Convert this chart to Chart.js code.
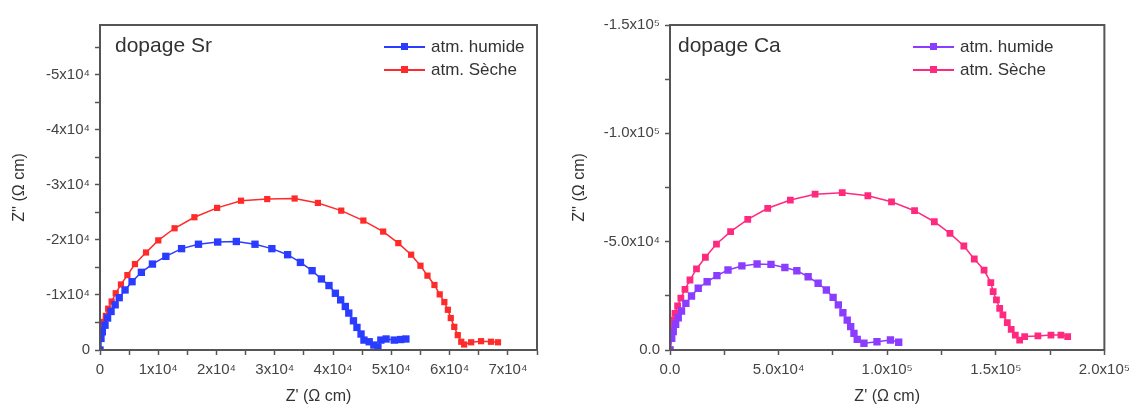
<!DOCTYPE html>
<html>
<head>
<meta charset="utf-8">
<script src="https://cdn.jsdelivr.net/npm/chart.js@4/dist/chart.umd.min.js"></script>
<style>
body{margin:0;background:#fff;font-family:"Liberation Sans",Arial,sans-serif;}
.wrap{position:absolute;top:0;height:410px}
.ttl{position:absolute;font-size:21px;color:#333;line-height:1}
.leg{position:absolute;font-size:17px;color:#333;line-height:23px}
.leg div{display:flex;align-items:center}
.ln{position:relative;width:41px;height:2px;margin-right:6px}
.ln i{position:absolute;left:17px;top:-3px;width:7px;height:7px}
</style>
</head>
<body>
<div class="wrap" style="left:0;width:560px"><canvas id="c1"></canvas></div>
<div class="wrap" style="left:560px;width:576px"><canvas id="c2"></canvas></div>
<div class="ttl" style="left:115px;top:34px">dopage Sr</div>
<div class="ttl" style="left:678px;top:34px">dopage Ca</div>
<div class="leg" style="left:384px;top:35px">
  <div><span class="ln" style="background:#2a3cff"><i style="background:#2a3cff"></i></span>atm. humide</div>
  <div><span class="ln" style="background:#ff2a2a"><i style="background:#ff2a2a"></i></span>atm. Sèche</div>
</div>
<div class="leg" style="left:913px;top:35px">
  <div><span class="ln" style="background:#8a3cff"><i style="background:#8a3cff"></i></span>atm. humide</div>
  <div><span class="ln" style="background:#ff2a80"><i style="background:#ff2a80"></i></span>atm. Sèche</div>
</div>
<script>
// dopage Sr
const srHumX=[0,170,400,860,1300,1900,2600,3300,4300,5500,7100,9000,11300,14000,16900,20200,23400,26600,29500,32200,34400,36400,38000,39300,40400,41300,42100,42700,43500,44100,44800,45300,46200,47000,47700,48200,49100,50500,51600,52500];
const srHumY=[0,-2100,-3300,-4500,-5800,-7000,-8200,-9500,-10900,-12400,-14100,-15600,-17000,-18400,-19200,-19600,-19700,-19200,-18400,-17300,-15900,-14400,-12900,-11700,-10300,-9100,-7900,-6700,-5300,-4100,-2900,-1800,-1500,-900,-500,-1800,-2000,-1800,-1900,-2000];
const srSecX=[0,0,300,570,1000,1400,2000,2700,3600,4700,6000,7900,10000,12800,16200,20100,24200,28700,33400,37400,41400,45200,48600,51200,53400,55000,56200,57400,58300,59100,59700,60200,60800,61400,62000,62500,63700,65400,67100,68300];
const srSecY=[0,-2200,-3900,-5100,-6200,-7500,-8800,-10300,-11900,-13600,-15600,-17700,-19900,-22100,-24100,-25800,-27100,-27400,-27500,-26700,-25300,-23500,-21500,-19400,-17300,-15300,-13500,-11800,-10100,-8700,-7300,-5800,-4200,-2700,-1500,-1000,-1400,-1600,-1500,-1400];
const srXTicks=[0,5000,10000,15000,20000,25000,30000,35000,40000,45000,50000,55000,60000,65000,70000,75000];
const srYTicks=[0,-5000,-10000,-15000,-20000,-25000,-30000,-35000,-40000,-45000,-50000,-55000];
// dopage Ca
const caHumX=[0,800,1500,2600,3800,5300,7300,9900,13000,17100,21600,26700,33100,40100,46500,52900,58400,63600,68200,72000,75100,77500,79600,81600,83200,84700,86200,89300,95300,101500,105300];
const caHumY=[0,-5400,-8500,-11900,-14900,-18000,-21500,-24900,-28500,-31500,-34300,-36900,-38800,-39700,-39500,-38100,-36600,-33800,-30800,-27700,-24300,-20800,-17200,-13800,-10800,-7700,-4900,-3100,-3800,-4600,-3600];
const caSecX=[0,300,800,1400,2300,3500,5000,6900,9200,12200,16300,21400,27900,35800,45000,55400,66800,79300,91100,102000,112600,121700,128900,135300,140100,144600,147700,148800,150300,151800,153300,155300,157100,159000,161000,163300,169400,175400,180000,183100];
const caSecY=[0,-6900,-10800,-13800,-16900,-20300,-23900,-28000,-32300,-37400,-42800,-48900,-54600,-60300,-65400,-69200,-71900,-72600,-71200,-68400,-64300,-59200,-53800,-48000,-42000,-36900,-31100,-26900,-23100,-19200,-16200,-12600,-9500,-6900,-4600,-6200,-6500,-6900,-6900,-6200];
const caXTicks=[0,25000,50000,75000,100000,125000,150000,175000,200000];
const caYTicks=[0,-25000,-50000,-75000,-100000,-125000,-150000];

const pts=(xs,ys)=>xs.map((x,i)=>({x:x,y:ys[i]}));
const sup={4:'⁴',5:'⁵'};
function fmtSr(v){
  const a=Math.round(Math.abs(v)/1000)*1000;
  if(a===0)return '0';
  if(a%10000)return '';
  return (v<0?'-':'')+a/10000+'x10'+sup[4];
}
function fmtCa(v){
  const a=Math.round(Math.abs(v)/1000)*1000;
  if(a===0)return '0.0';
  if(a%50000)return '';
  const e=a>=100000?5:4;
  return (v<0?'-':'')+(a/Math.pow(10,e)).toFixed(1)+'x10'+sup[e];
}
const boxPlugin={id:'box',afterDatasetsDraw(ch){
  const a=ch.chartArea,c=ch.ctx;
  c.save();c.strokeStyle='#555';c.lineWidth=2;
  c.strokeRect(a.left,a.top,a.right-a.left,a.bottom-a.top);
  c.restore();
}};
function ds(data,color,r){
  return {data:data,showLine:true,borderColor:color,backgroundColor:color,borderWidth:1.5,
    pointStyle:'rect',pointRadius:r,pointBorderWidth:0,tension:0};
}
function make(id,sets,xMax,yMin,xTicks,yTicks,fmt,padRight,yW){
  const tickFont={family:'"Liberation Sans", Arial',size:15};
  const titleFont={family:'"Liberation Sans", Arial',size:16};
  new Chart(document.getElementById(id),{
    type:'scatter',
    data:{datasets:sets},
    plugins:[boxPlugin],
    options:{
      responsive:true,maintainAspectRatio:false,animation:false,
      layout:{padding:{left:6,top:25,right:padRight,bottom:0}},
      plugins:{legend:{display:false},tooltip:{enabled:false}},
      scales:{
        x:{type:'linear',min:0,max:xMax,
          afterBuildTicks:s=>{s.ticks=xTicks.map(v=>({value:v}));},
          ticks:{autoSkip:false,maxRotation:0,padding:6,color:'#444',font:tickFont,callback:fmt},
          grid:{drawOnChartArea:false,drawTicks:true,tickLength:5,tickColor:'#555',tickWidth:1.5},
          border:{color:'#444',width:2},
          title:{display:true,text:"Z' (Ω cm)",color:'#333',font:titleFont,padding:{top:4}},
          afterFit:s=>{s.height=60;}
        },
        y:{type:'linear',min:yMin,max:0,reverse:true,
          afterBuildTicks:s=>{s.ticks=yTicks.map(v=>({value:v}));},
          ticks:{autoSkip:false,padding:5,color:'#444',font:tickFont,callback:fmt},
          grid:{drawOnChartArea:false,drawTicks:true,tickLength:5,tickColor:'#555',tickWidth:1.5},
          border:{color:'#444',width:2},
          title:{display:true,text:"Z'' (Ω cm)",color:'#333',font:titleFont,padding:{bottom:4}},
          afterFit:s=>{s.width=yW;}
        }
      }
    }
  });
}
make('c1',[ds(pts(srHumX,srHumY),'#2a3cff',5.2),ds(pts(srSecX,srSecY),'#ff2a2a',4.4)],75000,-59000,srXTicks,srYTicks,fmtSr,23,94);
make('c2',[ds(pts(caHumX,caHumY),'#8a3cff',5.2),ds(pts(caSecX,caSecY),'#ff2a80',4.8)],200000,-150000,caXTicks,caYTicks,fmtCa,29,104);
</script>
</body>
</html>
